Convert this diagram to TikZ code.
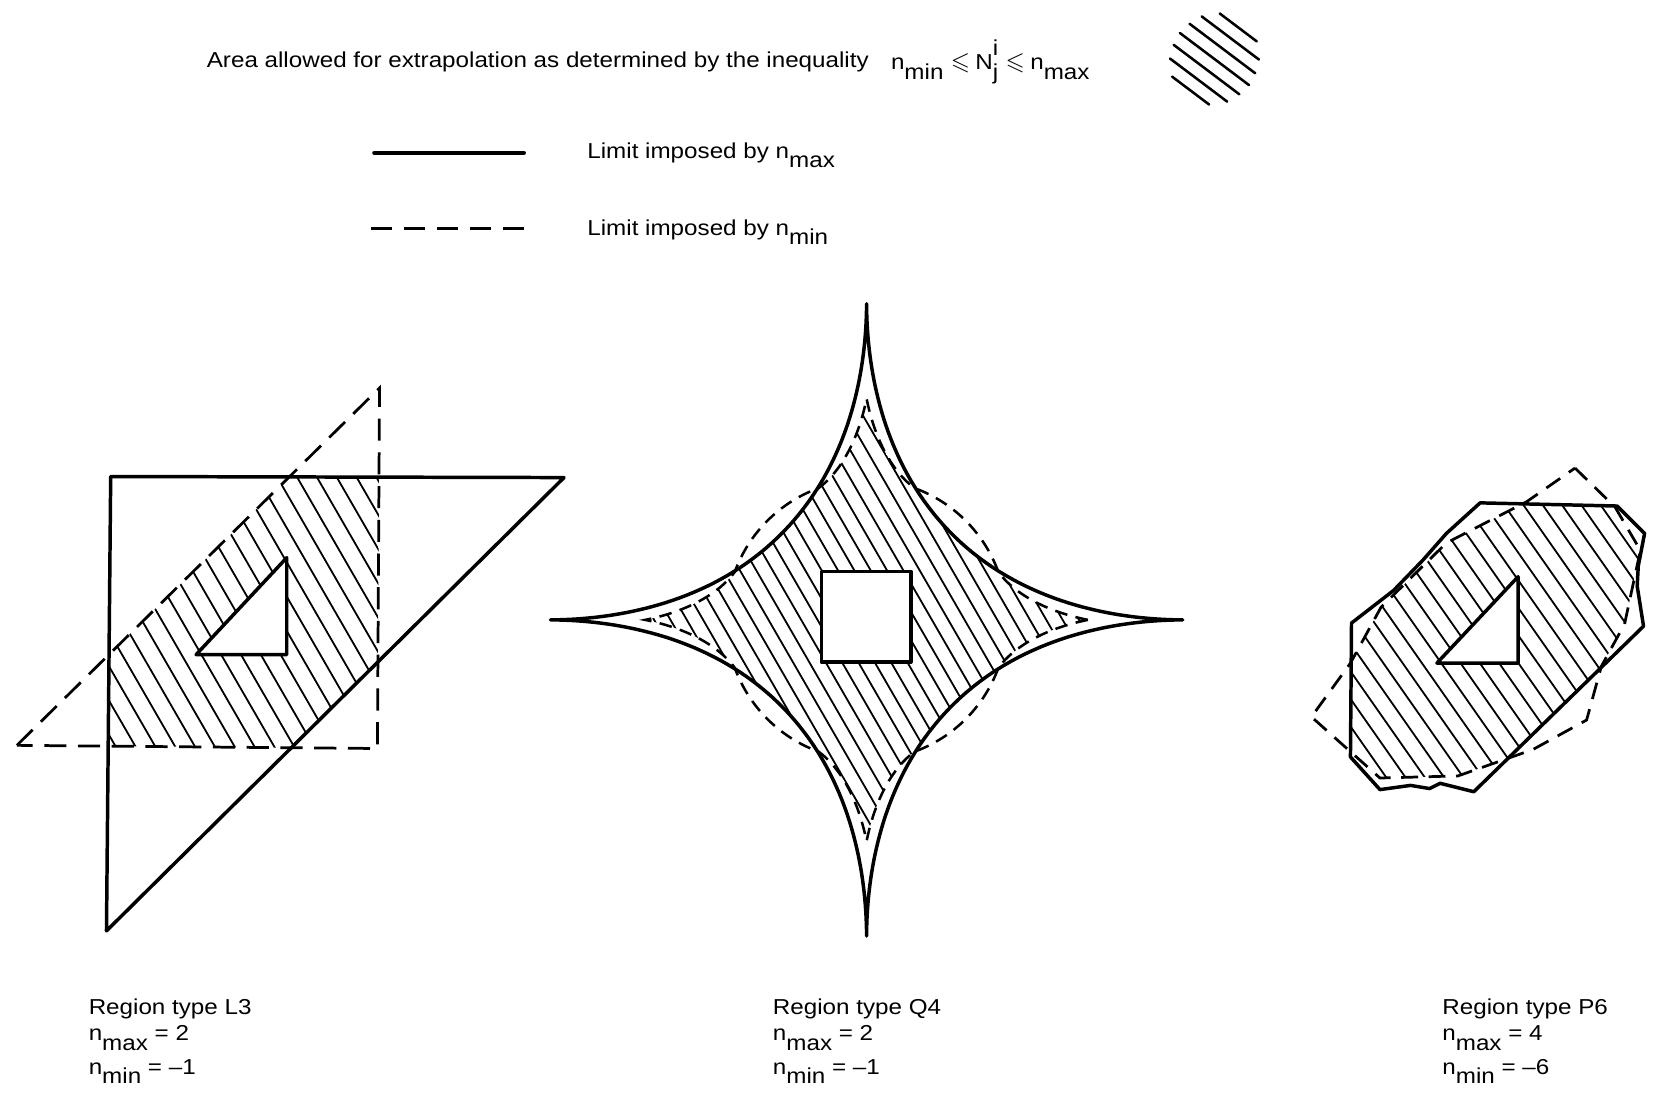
\documentclass[tikz,border=0pt]{standalone}
\usepackage{amssymb}
\usepackage{fontspec}
\setmainfont{Liberation Sans}[FakeStretch=1.12]
\newcommand\lowsub[1]{\raisebox{-9pt}{#1}}
\begin{document}
\begin{tikzpicture}[x=1pt,y=-1pt,
  solidline/.style={line width=3.3pt,line join=round,line cap=round},
  dashL/.style={line width=2.6pt,dash pattern=on 21pt off 11pt},
  dashQ/.style={line width=2.4pt,dash pattern=on 12pt off 8pt},
  dashP/.style={line width=2.6pt,dash pattern=on 16pt off 10pt},
  dashLeg/.style={line width=3pt,dash pattern=on 20pt off 11.25pt},
  hatchline/.style={line width=1.7pt},
  iconline/.style={line width=2.4pt,line cap=round},
  lbl/.style={anchor=base west,inner sep=0pt,font=\fontsize{20.5}{24}\selectfont}]
\useasboundingbox (0,0) rectangle (1568,1042);

% ---------- header ----------
\node[lbl] (title) at (196,64) {Area allowed for extrapolation as determined by the inequality};
\node[lbl] (ineq) at (845,66) {n\lowsub{min}\hspace{7pt}\scalebox{1.15}{$\leqslant$}\hspace{5pt}N\rlap{\raisebox{13pt}{i}}\lowsub{j}\hspace{7pt}\scalebox{1.15}{$\leqslant$}\hspace{5pt}n\lowsub{max}};
\foreach \k/\h in {-3/22,-2/34,-1/39,0/41,1/39,2/34,3/22}
  \draw[iconline] ({1152-\k*12.5*0.602-\h*0.799},{56+\k*12.5*0.799-\h*0.602})
               -- ({1152-\k*12.5*0.602+\h*0.799},{56+\k*12.5*0.799+\h*0.602});

% ---------- legend ----------
\draw[solidline,line width=3.8pt] (355,145) coordinate (ls1) -- (497,145) coordinate (ls2);
\draw[dashLeg] (352,217) coordinate (ld1) -- (497,217) coordinate (ld2);
\node[lbl] (legmax) at (557,150) {Limit imposed by n\lowsub{max}};
\node[lbl] (legmin) at (557,223) {Limit imposed by n\lowsub{min}};

% ---------- region L3 ----------
\begin{scope}
  \clip (105,452) -- (535,453) -- (101,883) -- cycle;
  \clip (16,707) -- (360,368) -- (358,710) -- cycle;
  \foreach \k in {-22,...,22}
    \draw[hatchline] ({186+\k*18.8-400*cos(60)},{710-400*sin(60)}) -- ({186+\k*18.8+400*cos(60)},{710+400*sin(60)});
\end{scope}
\draw[dashL] (16,707) -- (360,368) -- (358,710) -- cycle;
\draw[solidline] (105,452) -- (535,453) -- (101,883) -- cycle;
\filldraw[solidline,fill=white] (186,621) -- (272,529) -- (272,621) -- cycle;

% ---------- region Q4 ----------
\begin{scope}
  \clip plot[domain=0.5:359.5,samples=360] ({822+300*cos(\x)*abs(cos(\x))^2.77},{588+300*sin(\x)*abs(sin(\x))^2.77}) -- cycle;
  \begin{scope}[shift={(822,588)}]
  \clip (210,0) .. controls (170,8) and (140,25) .. (125,45.5) arc[start angle=20,end angle=70,radius=133]
     .. controls (25,140) and (8,170) .. (0,210)
     .. controls (-8,170) and (-25,140) .. (-45.5,125) arc[start angle=110,end angle=160,radius=133]
     .. controls (-140,25) and (-170,8) .. (-210,0)
     .. controls (-170,-8) and (-140,-25) .. (-125,-45.5) arc[start angle=200,end angle=250,radius=133]
     .. controls (-25,-140) and (-8,-170) .. (0,-210)
     .. controls (8,-170) and (25,-140) .. (45.5,-125) arc[start angle=290,end angle=340,radius=133]
     .. controls (140,-25) and (170,-8) .. cycle;
  \foreach \k in {-36,...,36}
    \draw[hatchline] ({\k*15.5-300*cos(60)},{-300*sin(60)}) -- ({\k*15.5+300*cos(60)},{300*sin(60)});
  \end{scope}
\end{scope}
\begin{scope}[shift={(822,588)}]
  \draw[dashQ] (210,0) .. controls (170,8) and (140,25) .. (125,45.5) arc[start angle=20,end angle=70,radius=133]
     .. controls (25,140) and (8,170) .. (0,210)
     .. controls (-8,170) and (-25,140) .. (-45.5,125) arc[start angle=110,end angle=160,radius=133]
     .. controls (-140,25) and (-170,8) .. (-210,0)
     .. controls (-170,-8) and (-140,-25) .. (-125,-45.5) arc[start angle=200,end angle=250,radius=133]
     .. controls (-25,-140) and (-8,-170) .. (0,-210)
     .. controls (8,-170) and (25,-140) .. (45.5,-125) arc[start angle=290,end angle=340,radius=133]
     .. controls (140,-25) and (170,-8) .. cycle;
\end{scope}
\draw[solidline] plot[domain=0.5:359.5,samples=360] ({822+300*cos(\x)*abs(cos(\x))^2.77},{588+300*sin(\x)*abs(sin(\x))^2.77}) -- cycle;
\filldraw[solidline,fill=white] (779,542) rectangle (864,628);

% ---------- region P6 ----------
\begin{scope}
  \clip (1404,477) -- (1534,480) -- (1560,506) -- (1554,537) -- (1553,556) -- (1559,594) -- (1398,751) -- (1366,743) -- (1356,748) -- (1338,745) -- (1309,749) -- (1281,718) -- (1282,591) -- (1322,560) -- (1350,531) -- (1372,506) -- cycle;
  \clip (1494,444) -- (1532,481) -- (1556,522) -- (1541,592) -- (1519,632) -- (1505,683) -- (1454,711) -- (1383,736) -- (1309,738) -- (1244,680) -- (1281,629) -- (1310,576) -- (1372,515) -- (1448,476) -- cycle;
  \foreach \k in {-22,...,22}
    \draw[hatchline] ({1420+\k*18.3-260*cos(55)},{600-260*sin(55)}) -- ({1420+\k*18.3+260*cos(55)},{600+260*sin(55)});
\end{scope}
\draw[dashP] (1494,444) -- (1532,481) -- (1556,522) -- (1541,592) -- (1519,632) -- (1505,683) -- (1454,711) -- (1383,736) -- (1309,738) -- (1244,680) -- (1281,629) -- (1310,576) -- (1372,515) -- (1448,476) -- cycle;
\draw[solidline] (1404,477) -- (1534,480) -- (1560,506) -- (1554,537) -- (1553,556) -- (1559,594) -- (1398,751) -- (1366,743) -- (1356,748) -- (1338,745) -- (1309,749) -- (1281,718) -- (1282,591) -- (1322,560) -- (1350,531) -- (1372,506) -- cycle;
\filldraw[solidline,fill=white] (1363,629) -- (1440,547) -- (1440,629) -- cycle;

% ---------- labels ----------
\node[lbl] (l3a) at (84,962) {Region type L3};
\node[lbl] (l3b) at (84,987) {n\lowsub{max} = 2};
\node[lbl] (l3c) at (84,1019) {n\lowsub{min} = –1};
\node[lbl] (q4a) at (733,962) {Region type Q4};
\node[lbl] (q4b) at (733,987) {n\lowsub{max} = 2};
\node[lbl] (q4c) at (733,1019) {n\lowsub{min} = –1};
\node[lbl] (p6a) at (1368,962) {Region type P6};
\node[lbl] (p6b) at (1368,987) {n\lowsub{max} = 4};
\node[lbl] (p6c) at (1368,1019) {n\lowsub{min} = –6};
\end{tikzpicture}
\end{document}
